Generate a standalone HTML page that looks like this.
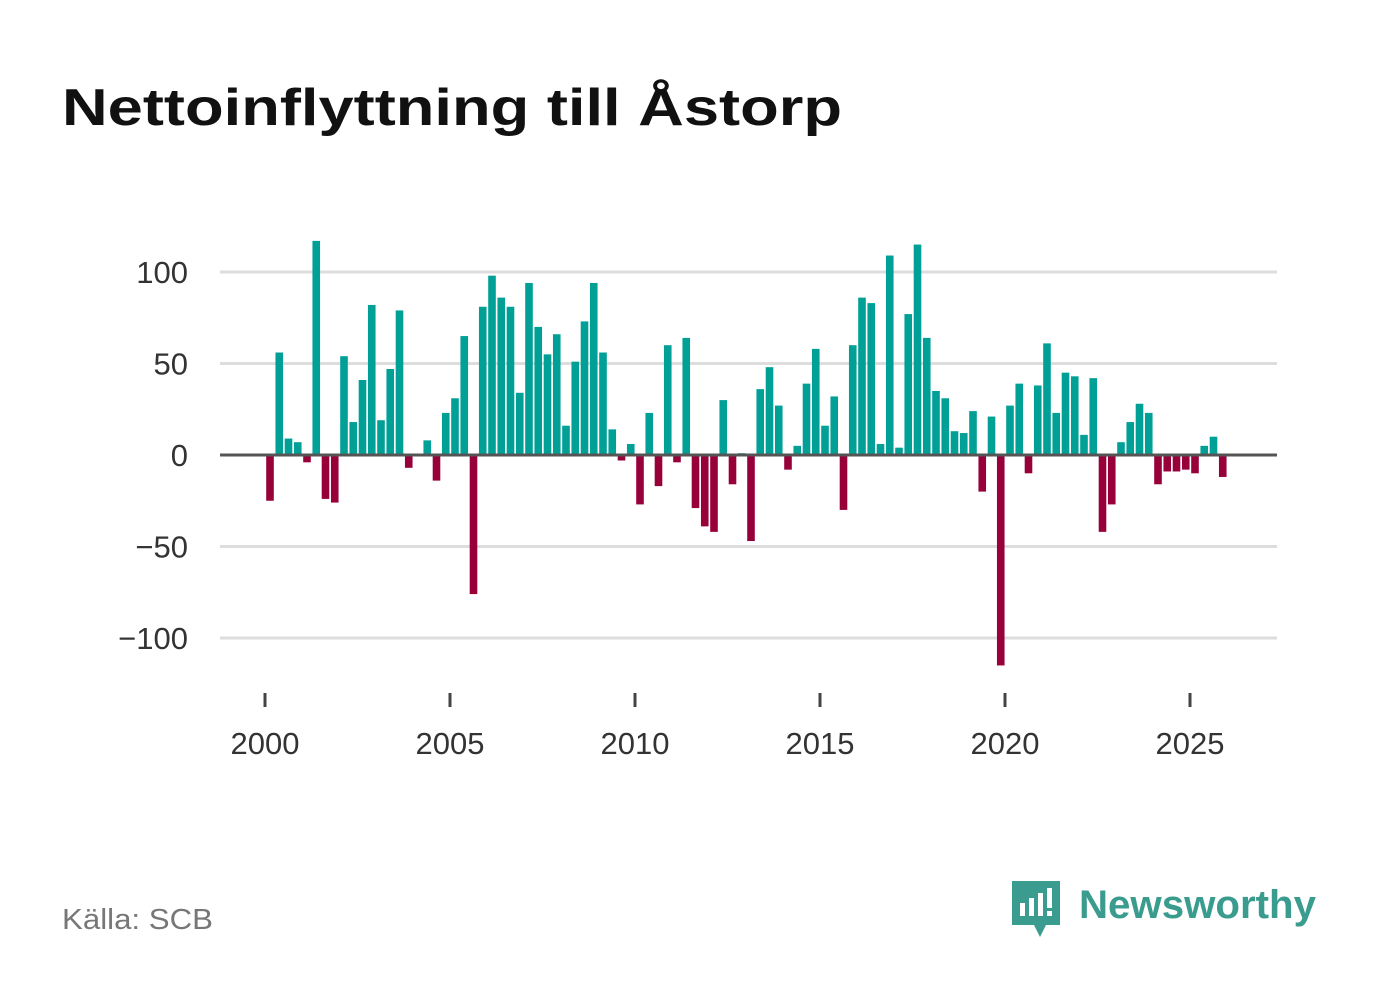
<!DOCTYPE html>
<html><head><meta charset="utf-8"><style>
body{margin:0;background:#fff;width:1382px;height:999px;overflow:hidden;font-family:"Liberation Sans",sans-serif}
</style></head><body>
<svg width="1382" height="999">
<text x="62" y="125" font-size="52" font-weight="bold" fill="#111" textLength="780" lengthAdjust="spacingAndGlyphs">Nettoinflyttning till Åstorp</text>
<g id="grid"></g><g id="bars"></g><g id="axis"></g>
<text x="62" y="929" font-size="29" fill="#777" textLength="151" lengthAdjust="spacingAndGlyphs">Källa: SCB</text>
<g>
<path d="M1012 881 h48 v44 h-14 l-6 12 l-6 -12 h-22 z" fill="#3a9c8f"/>
<rect x="1020" y="903" width="5" height="13" fill="#fff"/><rect x="1029" y="898" width="5" height="18" fill="#fff"/><rect x="1038" y="893" width="5" height="23" fill="#fff"/><rect x="1047" y="888" width="5" height="20" fill="#fff"/><rect x="1047" y="911" width="5" height="5" fill="#fff"/>
<text x="1079" y="918" font-size="40" font-weight="bold" fill="#3a9c8f" textLength="237" lengthAdjust="spacingAndGlyphs">Newsworthy</text>
</g>
</svg>
<script>
const startYear=2000;
const values=[-25,56,9,7,-4,117,-24,-26,54,18,41,82,19,47,79,-7,0,8,-14,23,31,65,-76,81,98,86,81,34,94,70,55,66,16,51,73,94,56,14,-3,6,-27,23,-17,60,-4,64,-29,-39,-42,30,-16,1,-47,36,48,27,-8,5,39,58,16,32,-30,60,86,83,6,109,4,77,115,64,35,31,13,12,24,-20,21,-115,27,39,-10,38,61,23,45,43,11,42,-42,-27,7,18,28,23,-16,-9,-9,-8,-10,5,10,-12];
const yTicks=[100,50,0,-50,-100];
const yTickLabels=["100","50","0","−50","−100"];
const xTicks=[2000,2005,2010,2015,2020,2025];
const ns="http://www.w3.org/2000/svg";
const x=t=>265+(t-2000)*37;
const y=v=>455-v*1.83;
function mk(tag,attrs,parent){const e=document.createElementNS(ns,tag);for(const k in attrs)e.setAttribute(k,attrs[k]);parent.appendChild(e);return e;}
const grid=document.getElementById('grid'),bars=document.getElementById('bars'),axis=document.getElementById('axis');
yTicks.forEach((v,i)=>{
  if(v!==0){const l=mk('line',{x1:220,x2:1277,y1:y(v),y2:y(v),stroke:'#ddd','stroke-width':3},grid);
  
  }
  const t=mk('text',{x:188,y:y(v)+11,'font-size':31,fill:'#333','text-anchor':'end'},grid);
  t.textContent=yTickLabels[i];
  
  
});
values.forEach((v,i)=>{
  const t=startYear+i/4;const cx=x(t)+5;
  const r=mk('rect',{x:cx-3.8,width:7.6,y:Math.min(y(v),y(0)),height:Math.abs(y(v)-y(0)),fill:v>=0?'#00a096':'#98003a'},bars);
  
  
});
const zl=mk('line',{x1:220,x2:1277,y1:y(0),y2:y(0),stroke:'#555','stroke-width':3},axis);


xTicks.forEach(yr=>{
  const tk=mk('line',{x1:x(yr),x2:x(yr),y1:693,y2:707,stroke:'#444','stroke-width':3},axis);
  
  
  const t=mk('text',{x:x(yr),y:754,'font-size':31,fill:'#333','text-anchor':'middle'},axis);
  t.textContent=yr;
  
  
});
</script>
</body></html>
